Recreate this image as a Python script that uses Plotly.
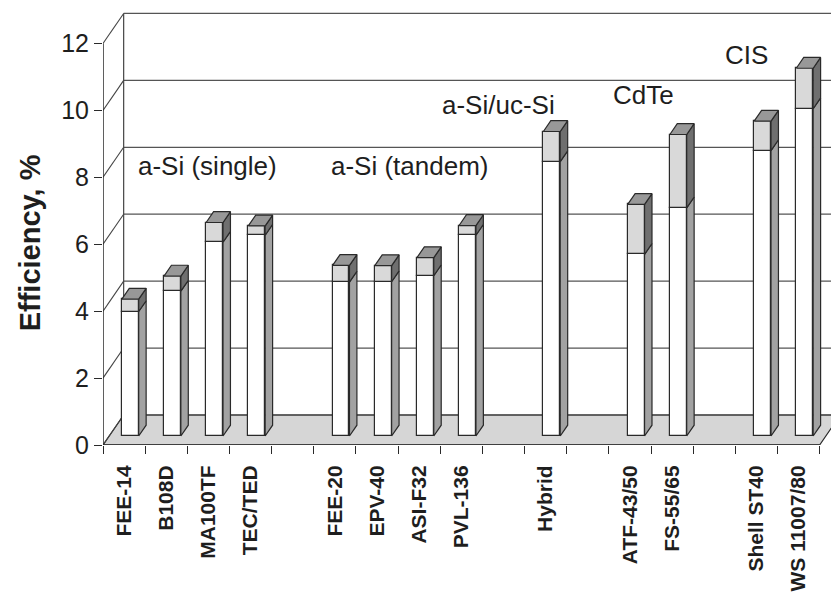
import plotly.graph_objects as go

# ---------------- data ----------------
categories = ["FEE-14", "B108D", "MA100TF", "TEC/TED", "",
              "FEE-20", "EPV-40", "ASI-F32", "PVL-136", "",
              "Hybrid", "",
              "ATF-43/50", "FS-55/65", "",
              "Shell ST40", "WS 11007/80"]
# lower (white) part and total height (white + light gray) of each bar, %
eff_low = [3.72, 4.33, 5.79, 6.00, None,
           4.60, 4.61, 4.79, 6.00, None,
           8.20, None,
           5.43, 6.82, None,
           8.53, 9.78]
eff_high = [4.09, 4.78, 6.38, 6.28, None,
            5.10, 5.09, 5.33, 6.29, None,
            9.10, None,
            6.92, 9.01, None,
            9.41, 10.99]
y_ticks = [0, 2, 4, 6, 8, 10, 12]
group_labels = ["a-Si (single)", "a-Si (tandem)", "a-Si/uc-Si", "CdTe", "CIS"]
group_x = [2.47, 7.29, 9.38, 12.82, 15.26]     # slot units
group_y = [8.35, 8.35, 10.15, 10.45, 11.65]   # value units (front plane)

# ---------------- geometry (oblique 3-D look) ----------------
N = len(categories)
DX, DY = 0.49, 0.897          # full-depth offset in slot / value units
D_FRONT, D_BACK = 0.30, 0.66  # depth of bar front / back faces
BAR_W = 0.40
X_MAX = 17.27
Y_MAX = 13.06

TXT = "#1e1e1e"
LINE = "#2a2a2a"
FONT = "Liberation Sans, Arial, sans-serif"

idx = [i for i in range(N) if eff_high[i] is not None]
xc = [i + 0.5 + D_FRONT * DX for i in idx]
low = [eff_low[i] for i in idx]
high = [eff_high[i] for i in idx]
base0 = D_FRONT * DY
bdx = (D_BACK - D_FRONT) * DX
bdy = (D_BACK - D_FRONT) * DY

fig = go.Figure()

# front faces of the bars
fig.add_trace(go.Bar(x=xc, y=low, base=[base0] * len(idx), width=BAR_W,
                     marker=dict(color="white", line=dict(color=LINE, width=1.2)),
                     hoverinfo="skip", showlegend=False))
fig.add_trace(go.Bar(x=xc, y=[h - l for h, l in zip(high, low)],
                     base=[base0 + l for l in low], width=BAR_W,
                     marker=dict(color="#d9d9d9", line=dict(color=LINE, width=1.2)),
                     hoverinfo="skip", showlegend=False))


def poly_trace(pts_list, color):
    xs, ys = [], []
    for pts in pts_list:
        for (px, py) in pts:
            xs.append(px)
            ys.append(py)
        xs.append(pts[0][0]); ys.append(pts[0][1])
        xs.append(None); ys.append(None)
    return go.Scatter(x=xs, y=ys, mode="lines", fill="toself", fillcolor=color,
                      line=dict(color=LINE, width=1.2), hoverinfo="skip",
                      showlegend=False)


side_low, side_high, tops = [], [], []
for x, l, h in zip(xc, low, high):
    xl, xr = x - BAR_W / 2, x + BAR_W / 2
    yb, yl, yh = base0, base0 + l, base0 + h
    side_low.append([(xr, yb), (xr, yl), (xr + bdx, yl + bdy), (xr + bdx, yb + bdy)])
    side_high.append([(xr, yl), (xr, yh), (xr + bdx, yh + bdy), (xr + bdx, yl + bdy)])
    tops.append([(xl, yh), (xr, yh), (xr + bdx, yh + bdy), (xl + bdx, yh + bdy)])

fig.add_trace(poly_trace(side_low, "#a2a2a2"))
fig.add_trace(poly_trace(side_high, "#6f6f6f"))
fig.add_trace(poly_trace(tops, "#989898"))

# dummy trace on label axis
fig.add_trace(go.Scatter(x=[0.5], y=[0], xaxis="x2", mode="markers",
                         marker=dict(opacity=0), hoverinfo="skip", showlegend=False))

# ---------------- walls, floor, grid ----------------
shapes = []
shapes.append(dict(type="rect", xref="x", yref="y", x0=DX, x1=N + DX, y0=DY, y1=y_ticks[-1] + DY,
                   fillcolor="white", line=dict(width=0), layer="below"))
shapes.append(dict(type="path", xref="x", yref="y",
                   path=f"M 0 0 L {N} 0 L {N + DX} {DY} L {DX} {DY} Z",
                   fillcolor="#d6d6d6", line=dict(color=LINE, width=1.2), layer="below"))
for v in y_ticks:
    shapes.append(dict(type="line", xref="x", yref="y", x0=DX, x1=N + DX, y0=v + DY, y1=v + DY,
                       line=dict(color="#555555", width=1.3), layer="below"))
    shapes.append(dict(type="line", xref="x", yref="y", x0=0, x1=DX, y0=v, y1=v + DY,
                       line=dict(color="#444444", width=1.1), layer="below"))
shapes.append(dict(type="line", xref="x", yref="y", x0=DX, x1=DX, y0=DY, y1=y_ticks[-1] + DY,
                   line=dict(color="#444444", width=1.2), layer="below"))
shapes.append(dict(type="line", xref="x", yref="y", x0=0, x1=0, y0=0, y1=y_ticks[-1],
                   line=dict(color=LINE, width=1.5), layer="above"))
shapes.append(dict(type="line", xref="x", yref="y", x0=0, x1=N, y0=0, y1=0,
                   line=dict(color=LINE, width=1.5), layer="above"))

annotations = []
for t, gx, gy in zip(group_labels, group_x, group_y):
    annotations.append(dict(text=t, x=gx, y=gy, xref="x", yref="y", showarrow=False,
                            xanchor="center", yanchor="middle",
                            font=dict(family=FONT, size=26, color=TXT)))
annotations.append(dict(text="<b>Efficiency, %</b>", x=-0.1, y=0.462,
                        xref="paper", yref="paper", showarrow=False, textangle=-90,
                        xanchor="center", yanchor="middle",
                        font=dict(family=FONT, size=29, color=TXT)))

fig.update_layout(
    width=831, height=594,
    margin=dict(l=103, r=0, t=8, b=149, autoexpand=False),
    paper_bgcolor="white", plot_bgcolor="white",
    barmode="overlay", bargap=0,
    showlegend=False,
    shapes=shapes, annotations=annotations,
    xaxis=dict(range=[0, X_MAX], tickmode="array", tickvals=list(range(N + 1)),
               showticklabels=False, ticks="outside", ticklen=8, tickwidth=1.3,
               tickcolor=LINE, showgrid=False, zeroline=False, showline=False,
               automargin=False),
    xaxis2=dict(range=[0, X_MAX], overlaying="x", anchor="y", side="bottom",
                tickmode="array", tickvals=[i + 0.5 for i in range(N)], ticktext=categories,
                tickangle=-90, ticks="outside", ticklen=11, tickcolor="rgba(0,0,0,0)",
                tickfont=dict(family=FONT, size=21, color=TXT, weight="bold"),
                showgrid=False, zeroline=False, showline=False, automargin=False),
    yaxis=dict(range=[0, Y_MAX], tickmode="array", tickvals=y_ticks,
               ticks="outside", ticklen=8, tickwidth=1.3, tickcolor=LINE,
               tickfont=dict(family=FONT, size=25, color=TXT),
               showgrid=False, zeroline=False, showline=False, automargin=False),
)

fig.write_html("out.html")
